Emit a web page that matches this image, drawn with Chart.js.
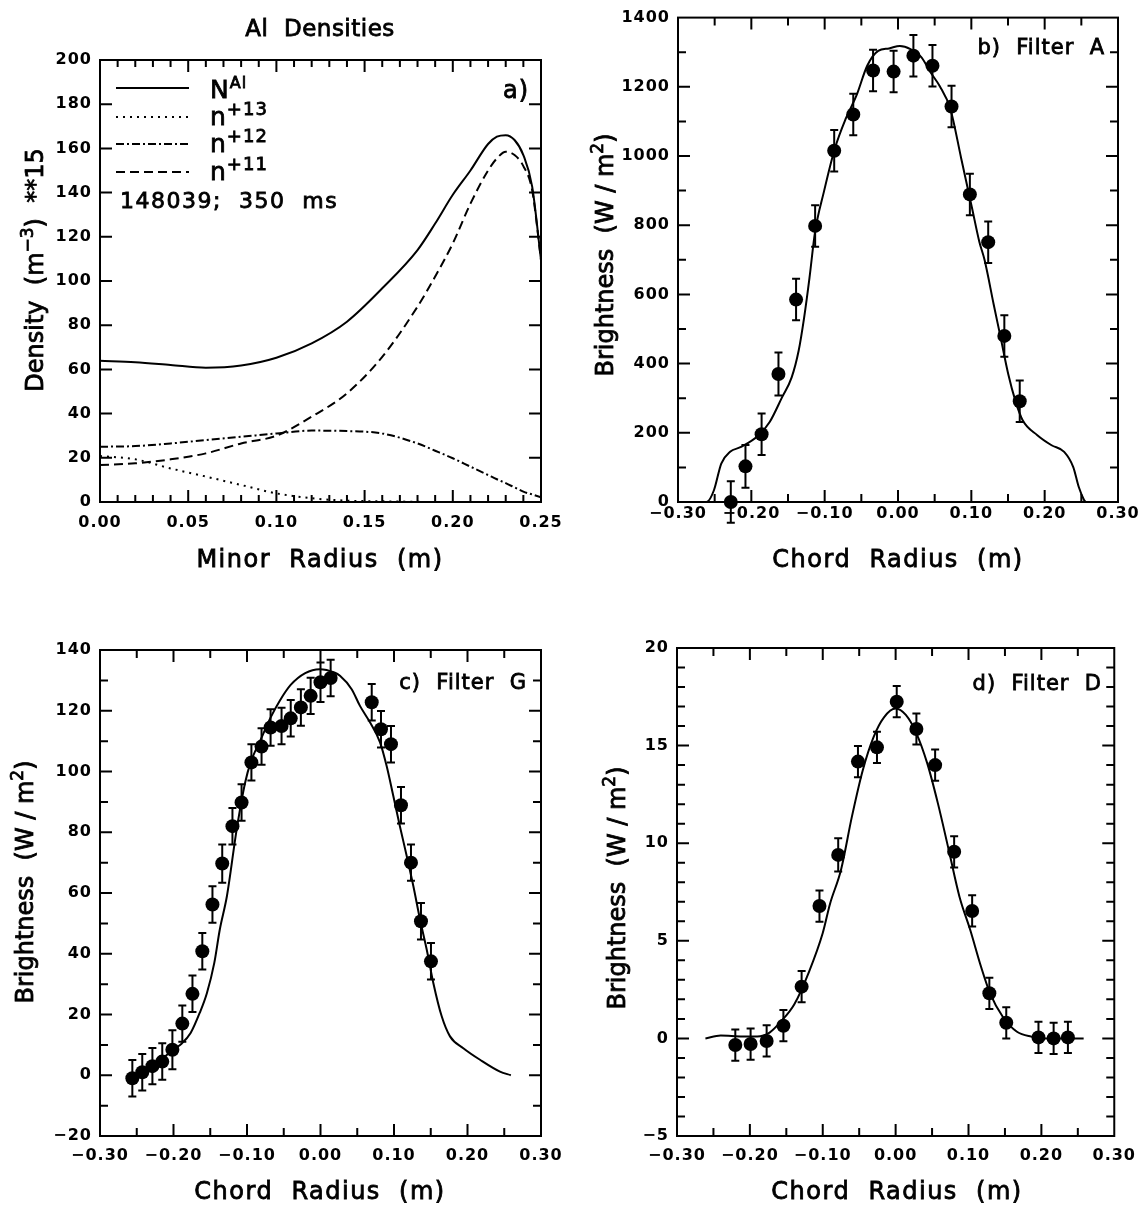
<!DOCTYPE html>
<html>
<head>
<meta charset="utf-8">
<script src="https://cdn.jsdelivr.net/npm/chart.js@4.4.1/dist/chart.umd.min.js"></script>
<style>
  html, body { margin: 0; padding: 0; background: #fff; }
  #page { position: relative; width: 1144px; height: 1210px; background: #fff; }
  .panel { position: absolute; width: 572px; height: 605px; }
</style>
</head>
<body>
<div id="page">
  <div class="panel" style="left:0;top:0"><canvas id="chartA" width="572" height="605"></canvas></div>
  <div class="panel" style="left:572px;top:0"><canvas id="chartB" width="572" height="605"></canvas></div>
  <div class="panel" style="left:0;top:605px"><canvas id="chartC" width="572" height="605"></canvas></div>
  <div class="panel" style="left:572px;top:605px"><canvas id="chartD" width="572" height="605"></canvas></div>
</div>
<script>
// ---- a) Al density profiles (x 1e15 m^-3) vs minor radius ----
const minorRadius = [0, 0.02, 0.04, 0.06, 0.08, 0.10, 0.12, 0.14, 0.16, 0.18, 0.19, 0.20, 0.21, 0.22, 0.225, 0.23, 0.235, 0.24, 0.245, 0.25];
const densTotal = [63.9, 63.2, 62.0, 60.8, 61.8, 65.3, 71.8, 81.6, 96.7, 114, 126, 139, 150, 162, 165.3, 166, 163.8, 157, 142.7, 109.5];
const densN13 = [20.8, 19.3, 15.2, 11.5, 7.7, 3.9, 1.7, 0.6, 0.3, 0.1, 0, 0, 0, 0, 0, 0, 0, 0, 0, 0];
const densN12 = [25.0, 25.3, 26.5, 28.0, 29.5, 31.0, 32.3, 32.1, 31.0, 26.5, 23.2, 19.8, 16.0, 12.2, 10.3, 8.5, 6.6, 4.7, 3.4, 2.1];
const densN11 = [16.7, 17.5, 19.3, 22.0, 26.5, 30.0, 38.6, 49.2, 65.7, 88.4, 102, 117, 135, 150, 155.5, 158.5, 157, 152, 141, 109.5];

// ---- b) Filter A brightness (W/m2) vs chord radius ----
const chordA = [-0.228, -0.208, -0.186, -0.163, -0.139, -0.113, -0.087, -0.061, -0.034, -0.006, 0.021, 0.047, 0.073, 0.098, 0.123, 0.145, 0.166];
const brightA = [0, 103, 196, 370, 585, 798, 1015, 1120, 1247, 1244, 1290, 1261, 1143, 889, 751, 480, 291];
const errA = [60, 62, 60, 62, 60, 60, 60, 60, 60, 60, 60, 60, 60, 60, 60, 60, 60];
const fitChordA = [-0.283, -0.261, -0.251, -0.241, -0.229, -0.214, -0.19, -0.175, -0.158, -0.145, -0.1355, -0.128, -0.1207, -0.113, -0.101, -0.0862, -0.0714, -0.0566, -0.042, -0.027, -0.0123, 0.0025, 0.017, 0.032, 0.0443, 0.0566, 0.0714, 0.0862, 0.101, 0.1108, 0.118, 0.1305, 0.140, 0.1503, 0.160, 0.17, 0.19, 0.2094, 0.2266, 0.239, 0.2464, 0.2537, 0.256];
const fitBrightA = [0, 0, 34, 111, 145, 159, 193, 231, 303, 360, 437, 533, 648, 782, 897, 1021, 1107, 1175, 1261, 1304, 1311, 1318, 1309, 1285, 1242, 1203, 1136, 993, 849, 753, 700, 571, 475, 370, 293, 236, 193, 164, 145, 101, 44, 6, 0];

// ---- c) Filter G ----
const chordG = [-0.256, -0.2425, -0.2287, -0.2153, -0.2015, -0.188, -0.1742, -0.1608, -0.147, -0.1337, -0.1198, -0.1074, -0.094, -0.0802, -0.0679, -0.053, -0.0405, -0.0267, -0.0134, 0.0, 0.0138, 0.0697, 0.0823, 0.0959, 0.1095, 0.1231, 0.1367, 0.1503];
const brightG = [-1, 1, 3, 4.5, 8.4, 17, 26.8, 40.8, 56.2, 69.7, 82, 89.8, 103, 108.2, 114.5, 115, 117.5, 121.1, 124.9, 129.4, 130.8, 122.8, 113.9, 109, 88.9, 70, 50.7, 37.5];
const errG = [6, 6, 6, 6, 6.4, 6, 6, 6, 6, 6.3, 6, 6, 6, 6, 6, 6, 6, 6, 6, 6.5, 6, 6, 6, 6, 6, 6, 6, 6];
const fitChordG = [-0.259, -0.244, -0.217, -0.201, -0.189, -0.1767, -0.1644, -0.1545, -0.1445, -0.137, -0.1273, -0.114, -0.1025, -0.095, -0.0812, -0.0678, -0.0554, -0.0406, -0.0208, -0.001, 0.0188, 0.0265, 0.0424, 0.0537, 0.0673, 0.081, 0.09, 0.099, 0.108, 0.1173, 0.1263, 0.1354, 0.1445, 0.1535, 0.1649, 0.1762, 0.1943, 0.217, 0.2442, 0.259];
const fitBrightG = [0, 1.2, 5.1, 8.4, 10.4, 13.9, 20.5, 27.1, 37, 48, 59, 81, 96.4, 103, 110.6, 117.8, 123.3, 128.5, 132.4, 133.7, 132.6, 131.5, 127.1, 121.6, 116.2, 109.6, 101.8, 92, 82, 72.2, 62.3, 51.3, 41.4, 30.4, 19.4, 12.8, 8.9, 5.1, 1.2, 0];

// ---- d) Filter D ----
const chordD = [-0.220, -0.199, -0.177, -0.154, -0.129, -0.1045, -0.0788, -0.0517, -0.0256, 0.0015, 0.0285, 0.0542, 0.0803, 0.105, 0.1286, 0.1518, 0.196, 0.2168, 0.2364];
const brightD = [-0.34, -0.29, -0.13, 0.65, 2.65, 6.78, 9.4, 14.18, 14.91, 17.25, 15.85, 14.0, 9.56, 6.53, 2.31, 0.8, 0.05, 0.0, 0.05];
const errD = [0.8, 0.8, 0.8, 0.8, 0.8, 0.8, 0.85, 0.8, 0.8, 0.8, 0.8, 0.8, 0.8, 0.8, 0.8, 0.8, 0.8, 0.8, 0.8];
const fitChordD = [-0.261, -0.24, -0.21, -0.19, -0.173, -0.159, -0.139, -0.119, -0.1, -0.09, -0.075, -0.06, -0.045, -0.03, -0.016, 0, 0.014, 0.0285, 0.0433, 0.058, 0.0729, 0.0876, 0.1024, 0.1172, 0.1296, 0.147, 0.1665, 0.186, 0.206, 0.258];
const fitBrightD = [0, 0.15, 0.1, 0.1, 0.3, 0.8, 1.75, 3.4, 5.4, 6.9, 8.63, 11.36, 13.75, 15.46, 16.45, 16.9, 16.57, 15.63, 14.1, 12.04, 9.65, 7.26, 5.55, 3.67, 2.31, 1.11, 0.34, 0.09, 0, 0];

const FONT = '"DejaVu Sans", "Liberation Sans", sans-serif';

function xy(xs, ys) {
  return xs.map((x, i) => ({ x: x, y: ys[i] }));
}

function fmtTick(v, digits) {
  if (Math.abs(v) < 1e-9) v = 0;
  return v.toFixed(digits).replace('-', '\u2212');
}

function spacing(ctx, px) {
  if ('letterSpacing' in ctx) ctx.letterSpacing = px + 'px';
}

// runs: [text, fontSize, rise]; filled and lightly stroked for a heavier plotter look
function drawRich(ctx, runs, x, y, align, gap) {
  spacing(ctx, gap || 0);
  let total = 0;
  runs.forEach(r => {
    ctx.font = r[1] + 'px ' + FONT;
    total += ctx.measureText(r[0]).width;
  });
  let cx = align === 'center' ? x - total / 2 : align === 'right' ? x - total : x;
  ctx.textAlign = 'left';
  ctx.textBaseline = 'alphabetic';
  ctx.strokeStyle = '#000';
  ctx.lineWidth = 0.8;
  ctx.setLineDash([]);
  runs.forEach(r => {
    ctx.font = r[1] + 'px ' + FONT;
    ctx.fillText(r[0], cx, y - (r[2] || 0));
    ctx.strokeText(r[0], cx, y - (r[2] || 0));
    cx += ctx.measureText(r[0]).width;
  });
}

function drawRotated(ctx, runs, x, y, gap) {
  ctx.save();
  ctx.translate(x, y);
  ctx.rotate(-Math.PI / 2);
  drawRich(ctx, runs, 0, 0, 'center', gap);
  ctx.restore();
}

// frame plus inward ticks on all four sides
function framePlugin(ticks) {
  return {
    id: 'frame',
    beforeDraw(chart) {
      spacing(chart.ctx, 1);
    },
    afterDraw(chart) {
      const ctx = chart.ctx;
      const a = chart.chartArea;
      const xs = chart.scales.x, ys = chart.scales.y;
      ctx.save();
      ctx.strokeStyle = '#000';
      ctx.lineWidth = 2;
      ctx.strokeRect(a.left, a.top, a.right - a.left, a.bottom - a.top);
      ctx.beginPath();
      const steps = (s, minor, major, fn) => {
        const n = Math.round((s.max - s.min) / minor);
        for (let i = 1; i < n; i++) {
          const v = s.min + i * minor;
          const isMajor = Math.abs(v / major - Math.round(v / major)) < 1e-6;
          fn(s.getPixelForValue(v), isMajor ? ticks.majorLen : ticks.minorLen);
        }
      };
      steps(xs, ticks.xMinor, ticks.xMajor, (p, len) => {
        ctx.moveTo(p, a.bottom); ctx.lineTo(p, a.bottom - len);
        ctx.moveTo(p, a.top); ctx.lineTo(p, a.top + len);
      });
      steps(ys, ticks.yMinor, ticks.yMajor, (p, len) => {
        ctx.moveTo(a.left, p); ctx.lineTo(a.left + len, p);
        ctx.moveTo(a.right, p); ctx.lineTo(a.right - len, p);
      });
      ctx.stroke();
      ctx.restore();
    }
  };
}

// vertical error bars with caps, from dataset.errors
const errorBarPlugin = {
  id: 'errorBars',
  afterDatasetsDraw(chart) {
    const ctx = chart.ctx;
    const xs = chart.scales.x, ys = chart.scales.y;
    ctx.save();
    ctx.strokeStyle = '#000';
    ctx.lineWidth = 2;
    chart.data.datasets.forEach(ds => {
      if (!ds.errors) return;
      ds.data.forEach((pt, i) => {
        const px = xs.getPixelForValue(pt.x);
        const top = ys.getPixelForValue(pt.y + ds.errors[i]);
        const bot = ys.getPixelForValue(pt.y - ds.errors[i]);
        ctx.beginPath();
        ctx.moveTo(px, top); ctx.lineTo(px, bot);
        ctx.moveTo(px - 4, top); ctx.lineTo(px + 4, top);
        ctx.moveTo(px - 4, bot); ctx.lineTo(px + 4, bot);
        ctx.stroke();
      });
    });
    ctx.restore();
  }
};

function textPlugin(draw) {
  return {
    id: 'panelText',
    afterDraw(chart) {
      const ctx = chart.ctx;
      ctx.save();
      ctx.fillStyle = '#000';
      draw(ctx, chart);
      ctx.restore();
    }
  };
}

function curve(label, xs, ys, dash) {
  return {
    label: label, data: xy(xs, ys), showLine: true, pointRadius: 0,
    borderColor: '#000', borderWidth: 2, borderDash: dash || [],
    cubicInterpolationMode: 'monotone', fill: false
  };
}

function points(xs, ys, errs) {
  return {
    label: 'measured', data: xy(xs, ys), showLine: false, errors: errs,
    pointRadius: 7, pointBackgroundColor: '#000', pointBorderColor: '#000',
    pointBorderWidth: 0, clip: false
  };
}

function makeChart(id, opts) {
  const tickFont = { family: FONT, size: 16, weight: 'bold' };
  return new Chart(document.getElementById(id), {
    type: 'scatter',
    data: { datasets: opts.datasets },
    options: {
      responsive: false,
      animation: false,
      layout: { autoPadding: false, padding: opts.padding },
      plugins: { legend: { display: false }, tooltip: { enabled: false } },
      scales: {
        x: {
          type: 'linear', min: opts.x.min, max: opts.x.max,
          grid: { display: false, drawTicks: false }, border: { display: false },
          ticks: {
            stepSize: opts.x.step, color: '#000', font: tickFont, padding: opts.x.pad,
            autoSkip: false, maxRotation: 0, callback: v => fmtTick(v, 2)
          },
          afterFit: s => { s.height = 50; }
        },
        y: {
          type: 'linear', min: opts.y.min, max: opts.y.max,
          grid: { display: false, drawTicks: false }, border: { display: false },
          ticks: {
            stepSize: opts.y.step, color: '#000', font: tickFont, padding: 8,
            autoSkip: false, callback: v => fmtTick(v, 0)
          },
          afterFit: s => { s.width = opts.yWidth; }
        }
      }
    },
    plugins: [framePlugin(opts.ticks), errorBarPlugin, textPlugin(opts.text)]
  });
}

// a) densities
makeChart('chartA', {
  datasets: [
    curve('N Al', minorRadius, densTotal, []),
    curve('n+13', minorRadius, densN13, [2, 5]),
    curve('n+12', minorRadius, densN12, [8, 3, 2, 3]),
    curve('n+11', minorRadius, densN11, [9, 5])
  ],
  padding: { left: 0, top: 60, right: 31, bottom: 53 },
  yWidth: 100,
  x: { min: 0, max: 0.25, step: 0.05, pad: 11 },
  y: { min: 0, max: 200, step: 20 },
  ticks: { xMinor: 0.01, xMajor: 0.05, yMinor: 20, yMajor: 20, majorLen: 12, minorLen: 7 },
  text(ctx, chart) {
    drawRich(ctx, [['Al  Densities', 23]], 320, 36, 'center', 0.5);
    drawRotated(ctx, [['Density  (m', 24], ['\u22123', 17, 10], [')  **15', 24]], 43, 270, 0);
    drawRich(ctx, [['Minor  Radius  (m)', 24]], 320, 567, 'center', 1.5);
    // legend
    const rows = [
      { y: 88, base: 98, runs: [['N', 25], ['Al', 16, 10]] },
      { y: 117, base: 125, runs: [['n', 25], ['+13', 18, 10]] },
      { y: 144, base: 152, runs: [['n', 25], ['+12', 18, 10]] },
      { y: 172, base: 180, runs: [['n', 25], ['+11', 18, 10]] }
    ];
    rows.forEach((r, i) => {
      ctx.strokeStyle = '#000';
      ctx.lineWidth = 2;
      ctx.setLineDash(chart.data.datasets[i].borderDash);
      ctx.beginPath();
      ctx.moveTo(116, r.y); ctx.lineTo(189, r.y);
      ctx.stroke();
      drawRich(ctx, r.runs, 210, r.base, 'left', 1);
    });
    drawRich(ctx, [['148039;  350  ms', 22]], 120, 208, 'left', 1.5);
    drawRich(ctx, [['a)', 24]], 529, 98, 'right', 1);
  }
});

// b) Filter A
makeChart('chartB', {
  datasets: [curve('fit', fitChordA, fitBrightA), points(chordA, brightA, errA)],
  padding: { left: 0, top: 15, right: 26, bottom: 53 },
  yWidth: 106,
  x: { min: -0.3, max: 0.3, step: 0.1, pad: 2 },
  y: { min: 0, max: 1400, step: 200 },
  ticks: { xMinor: 0.05, xMajor: 0.1, yMinor: 100, yMajor: 200, majorLen: 12, minorLen: 8 },
  text(ctx) {
    drawRotated(ctx, [['Brightness  (W / m', 24], ['2', 17, 10], [')', 24]], 41, 255, 0);
    drawRich(ctx, [['Chord  Radius  (m)', 24]], 326, 567, 'center', 1.5);
    drawRich(ctx, [['b)  Filter  A', 21]], 533, 54, 'right', 1);
  }
});

// c) Filter G
makeChart('chartC', {
  datasets: [curve('fit', fitChordG, fitBrightG), points(chordG, brightG, errG)],
  padding: { left: 0, top: 45, right: 31, bottom: 24 },
  yWidth: 100,
  x: { min: -0.3, max: 0.3, step: 0.1, pad: 10 },
  y: { min: -20, max: 140, step: 20 },
  ticks: { xMinor: 0.05, xMajor: 0.1, yMinor: 10, yMajor: 20, majorLen: 12, minorLen: 8 },
  text(ctx) {
    drawRotated(ctx, [['Brightness  (W / m', 24], ['2', 17, 10], [')', 24]], 33, 277, 0);
    drawRich(ctx, [['Chord  Radius  (m)', 24]], 320, 594, 'center', 1.5);
    drawRich(ctx, [['c)  Filter  G', 21]], 527, 84, 'right', 1);
  }
});

// d) Filter D
makeChart('chartD', {
  datasets: [curve('fit', fitChordD, fitBrightD), points(chordD, brightD, errD)],
  padding: { left: 0, top: 43, right: 27, bottom: 24 },
  yWidth: 105,
  x: { min: -0.3, max: 0.3, step: 0.1, pad: 10 },
  y: { min: -5, max: 20, step: 5 },
  ticks: { xMinor: 0.05, xMajor: 0.1, yMinor: 1, yMajor: 5, majorLen: 12, minorLen: 8 },
  text(ctx) {
    drawRotated(ctx, [['Brightness  (W / m', 24], ['2', 17, 10], [')', 24]], 53, 283, 0);
    drawRich(ctx, [['Chord  Radius  (m)', 24]], 325, 594, 'center', 1.5);
    drawRich(ctx, [['d)  Filter  D', 21]], 530, 85, 'right', 1);
  }
});
</script>
</body>
</html>
